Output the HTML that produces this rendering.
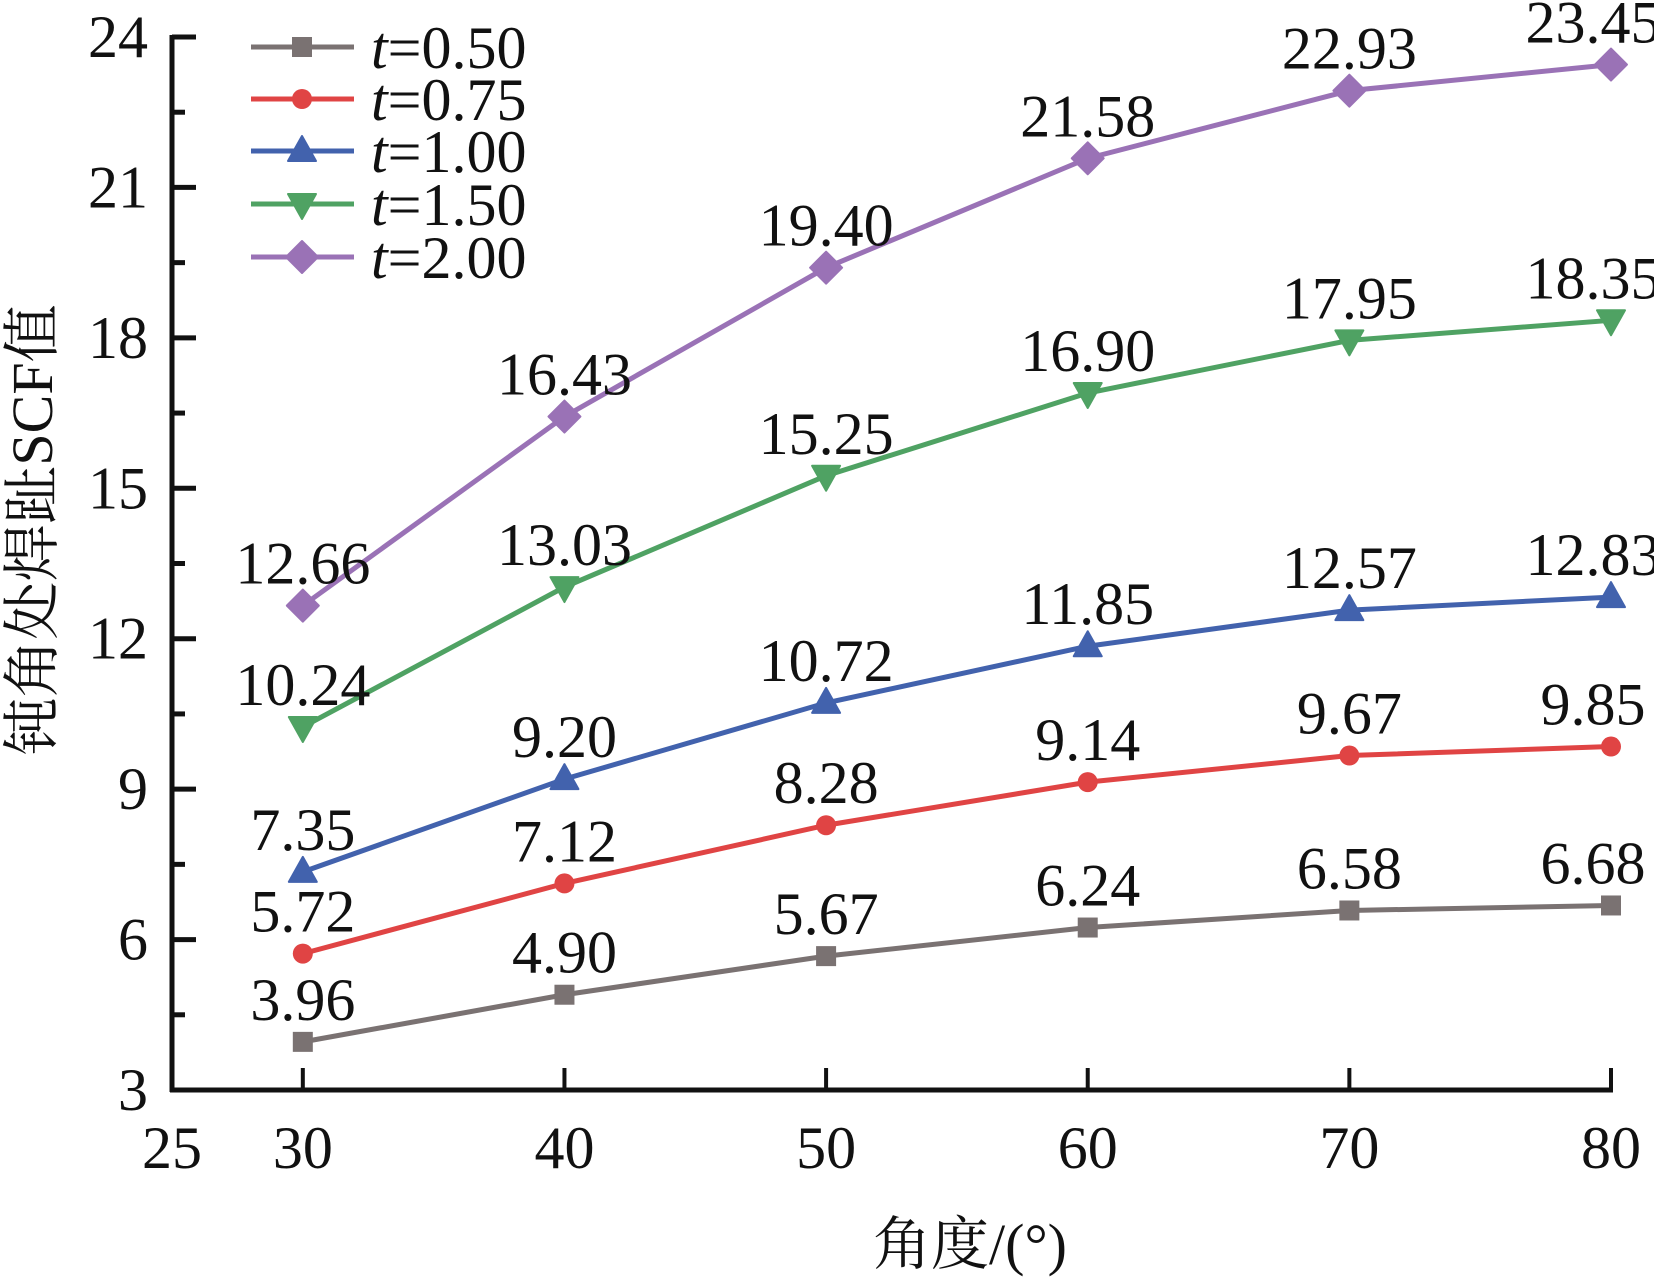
<!DOCTYPE html>
<html><head><meta charset="utf-8">
<style>
html,body{margin:0;padding:0;background:#fff;}
svg{display:block;}
text{font-family:"Liberation Serif","Noto Serif CJK SC",serif;fill:#111;}
</style></head>
<body>
<svg id="chart" width="1654" height="1278" viewBox="0 0 1654 1278" xmlns="http://www.w3.org/2000/svg">
<g id="axes"></g>
<g id="series"></g>
<g id="legend"></g>
<text transform="translate(52,530) rotate(-90)" text-anchor="middle" font-size="58" font-family="'Liberation Serif','Noto Sans CJK SC',sans-serif">钝角处焊趾SCF值</text>
<text x="970" y="1264" text-anchor="middle" font-size="58" font-family="'Liberation Serif','Noto Sans CJK SC',sans-serif">角度/(°)</text>
</svg>
<script>
const categories = [30, 40, 50, 60, 70, 80];
const seriesNames = ["t=0.50", "t=0.75", "t=1.00", "t=1.50", "t=2.00"];
const s050 = [3.96, 4.90, 5.67, 6.24, 6.58, 6.68];
const s075 = [5.72, 7.12, 8.28, 9.14, 9.67, 9.85];
const s100 = [7.35, 9.20, 10.72, 11.85, 12.57, 12.83];
const s150 = [10.24, 13.03, 15.25, 16.90, 17.95, 18.35];
const s200 = [12.66, 16.43, 19.40, 21.58, 22.93, 23.45];
const yTicks = [3, 6, 9, 12, 15, 18, 21, 24];
const xTickLabels = [25, 30, 40, 50, 60, 70, 80];

const NS = "http://www.w3.org/2000/svg";
const X0 = 172, X1 = 1611, Y0 = 1090, Y1 = 37;
const xs = v => X0 + (v - 25) / (80 - 25) * (X1 - X0);
const ys = v => Y0 - (v - 3) / (24 - 3) * (Y0 - Y1);
function mk(tag, attrs, parent) {
  const e = document.createElementNS(NS, tag);
  for (const k in attrs) e.setAttribute(k, attrs[k]);
  parent.appendChild(e);
  return e;
}
const axes = document.getElementById("axes");
let e = mk("line", {x1: X0, y1: Y1 - 2, x2: X0, y2: Y0 + 2, stroke: "#111", "stroke-width": 5}, axes);


e = mk("line", {x1: X0 - 2, y1: Y0, x2: X1 + 2, y2: Y0, stroke: "#111", "stroke-width": 5}, axes);


for (let v = 3; v <= 24; v += 1.5) {
  const major = yTicks.includes(v);
  e = mk("line", {x1: X0, y1: ys(v), x2: X0 + (major ? 24 : 13), y2: ys(v), stroke: "#111", "stroke-width": 5}, axes);
  
  
}
yTicks.forEach(v => {
  const t = mk("text", {x: 148, y: ys(v) + 20, "text-anchor": "end", "font-size": 60}, axes);
  t.textContent = v;
  
  
});
categories.forEach(v => {
  e = mk("line", {x1: xs(v), y1: Y0, x2: xs(v), y2: Y0 - 22, stroke: "#111", "stroke-width": 4}, axes);
  
  
});
xTickLabels.forEach(v => {
  const t = mk("text", {x: xs(v), y: 1168, "text-anchor": "middle", "font-size": 60}, axes);
  t.textContent = v;
  
  
});

const colors = ["#7a7272", "#e04444", "#4262ad", "#4fa263", "#9a72b6"];
const markers = ["square", "circle", "tri-up", "tri-down", "diamond"];
const allSeries = [s050, s075, s100, s150, s200];
function marker(type, x, y, color, parent) {
  let m;
  if (type === "square") m = mk("rect", {x: x - 10, y: y - 10, width: 20, height: 20, fill: color}, parent);
  else if (type === "circle") m = mk("circle", {cx: x, cy: y, r: 10, fill: color}, parent);
  else if (type === "tri-up") m = mk("polygon", {points: `${x},${y-15} ${x+14},${y+10} ${x-14},${y+10}`, fill: color, "stroke-linejoin": "round", stroke: color, "stroke-width": 2}, parent);
  else if (type === "tri-down") m = mk("polygon", {points: `${x},${y+15} ${x+14},${y-10} ${x-14},${y-10}`, fill: color, stroke: color, "stroke-width": 2, "stroke-linejoin": "round"}, parent);
  else m = mk("polygon", {points: `${x},${y-16} ${x+16},${y} ${x},${y+16} ${x-16},${y}`, fill: color, stroke: color, "stroke-width": 2, "stroke-linejoin": "round"}, parent);
  return m;
}
const sg = document.getElementById("series");
allSeries.forEach((vals, si) => {
  const g = mk("g", {}, sg);
  
  
  const pts = vals.map((v, i) => xs(categories[i]) + "," + ys(v)).join(" ");
  const pl = mk("polyline", {points: pts, fill: "none", stroke: colors[si], "stroke-width": 5}, g);
  
  
  vals.forEach((v, i) => {
    const x = xs(categories[i]), y = ys(v);
    const m = marker(markers[si], x, y, colors[si], g);
    
    
    const last = i === vals.length - 1;
    const t = mk("text", {x: last ? x - 18 : x, y: y - 22, "text-anchor": "middle", "font-size": 60}, g);
    t.textContent = v.toFixed(2);
    
    
  });
});
const lg = document.getElementById("legend");
const legY = [47, 99, 151, 204, 257];
seriesNames.forEach((n, i) => {
  const g = mk("g", {}, lg);
  
  
  mk("line", {x1: 251, y1: legY[i], x2: 354, y2: legY[i], stroke: colors[i], "stroke-width": 5}, g);
  marker(markers[i], 302, legY[i], colors[i], g);
  const t = mk("text", {x: 371, y: legY[i] + 21, "font-size": 60}, g);
  const it = mk("tspan", {"font-style": "italic"}, t);
  it.textContent = "t";
  const rest = mk("tspan", {}, t);
  rest.textContent = n.slice(1);
});
</script>
</body></html>
